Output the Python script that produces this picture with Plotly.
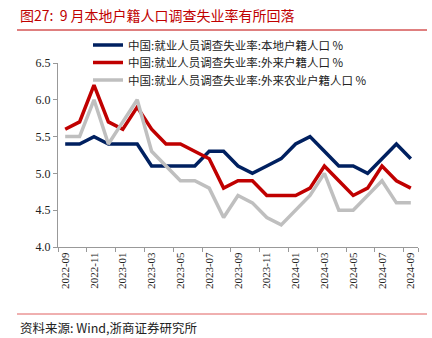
import plotly.graph_objects as go

months = ["2022-09","2022-10","2022-11","2022-12","2023-01","2023-02","2023-03","2023-04","2023-05","2023-06",
          "2023-07","2023-08","2023-09","2023-10","2023-11","2023-12","2024-01","2024-02","2024-03","2024-04",
          "2024-05","2024-06","2024-07","2024-08","2024-09"]
local_reg = [5.4,5.4,5.5,5.4,5.4,5.4,5.1,5.1,5.1,5.1,5.3,5.3,5.1,5.0,5.1,5.2,5.4,5.5,5.3,5.1,5.1,5.0,5.2,5.4,5.2]
migrant_reg = [5.6,5.7,6.2,5.7,5.6,5.9,5.6,5.4,5.4,5.3,5.2,4.8,4.9,4.9,4.7,4.7,4.7,4.8,5.1,4.9,4.7,4.8,5.1,4.9,4.8]
migrant_agri = [5.5,5.5,6.0,5.4,5.7,6.0,5.3,5.1,4.9,4.9,4.8,4.4,4.7,4.6,4.4,4.3,4.5,4.7,5.0,4.5,4.5,4.7,4.9,4.6,4.6]
names = ["中国:就业人员调查失业率:本地户籍人口 %",
         "中国:就业人员调查失业率:外来户籍人口 %",
         "中国:就业人员调查失业率:外来农业户籍人口 %"]
colors = ["#002060", "#c00000", "#bfbfbf"]
tick_labels = months[::2]

serif = "Liberation Serif, Times New Roman, serif"
cjk = "Noto Sans CJK SC"

PL, PR, PT, PB = 58, 418, 63, 247
def px(x): return (x - PL) / (PR - PL)
def py(y): return (PB - y) / (PB - PT)

legend_ids = ["legend", "legend2", "legend3"]
legend_rows = [45, 62.5, 80]

fig = go.Figure()
for name, vals, c, lid in zip(names, [local_reg, migrant_reg, migrant_agri], colors, legend_ids):
    fig.add_trace(go.Scatter(x=months, y=vals, name=name, mode="lines", legend=lid,
                             line=dict(color=c, width=3.5)))

legend_common = dict(xanchor="left", yanchor="middle", font=dict(family=cjk, size=11.5, color="#222"),
                     bgcolor="rgba(0,0,0,0)", itemwidth=30, borderwidth=0)
layout_legends = {}
for lid, row in zip(legend_ids, legend_rows):
    layout_legends[lid] = dict(x=px(88), y=py(row), **legend_common)

fig.update_layout(
    width=432, height=338,
    margin=dict(l=PL, r=432 - PR, t=PT, b=338 - PB),
    paper_bgcolor="white", plot_bgcolor="white",
    showlegend=True,
    xaxis=dict(type="category", range=[-0.5, 24.5], tickmode="array",
               tickvals=tick_labels, ticktext=tick_labels, tickangle=-90,
               tickson="boundaries", ticks="outside", ticklen=4, tickcolor="#999",
               showline=True, linecolor="#999", linewidth=1, showgrid=False,
               tickfont=dict(family=serif, size=11, color="#222")),
    yaxis=dict(range=[4.0, 6.5], dtick=0.5, tickformat=".1f",
               ticks="outside", ticklen=4, tickcolor="#999",
               showline=True, linecolor="#999", linewidth=1, showgrid=False,
               zeroline=False, tickfont=dict(family=serif, size=12, color="#222")),
    **layout_legends,
)
fig.add_annotation(text="图27:  9 月本地户籍人口调查失业率有所回落", xref="paper", yref="paper",
                   x=0, xshift=18 - PL, y=py(15), xanchor="left", yanchor="middle",
                   showarrow=False, font=dict(family=cjk, size=14, color="#c00000"))
fig.add_annotation(text="资料来源: Wind,浙商证券研究所", xref="paper", yref="paper",
                   x=0, xshift=18 - PL, y=py(327), xanchor="left", yanchor="middle",
                   showarrow=False, font=dict(family=cjk, size=12.5, color="#222"))
for yy, col in [(30, "#c00000"), (314, "#e06060")]:
    fig.add_shape(type="line", xref="paper", yref="paper", xsizemode="pixel", xanchor=0,
                  x0=17 - PL, x1=427 - PL, y0=py(yy), y1=py(yy), line=dict(color=col, width=1))
fig.write_html("out.html")
